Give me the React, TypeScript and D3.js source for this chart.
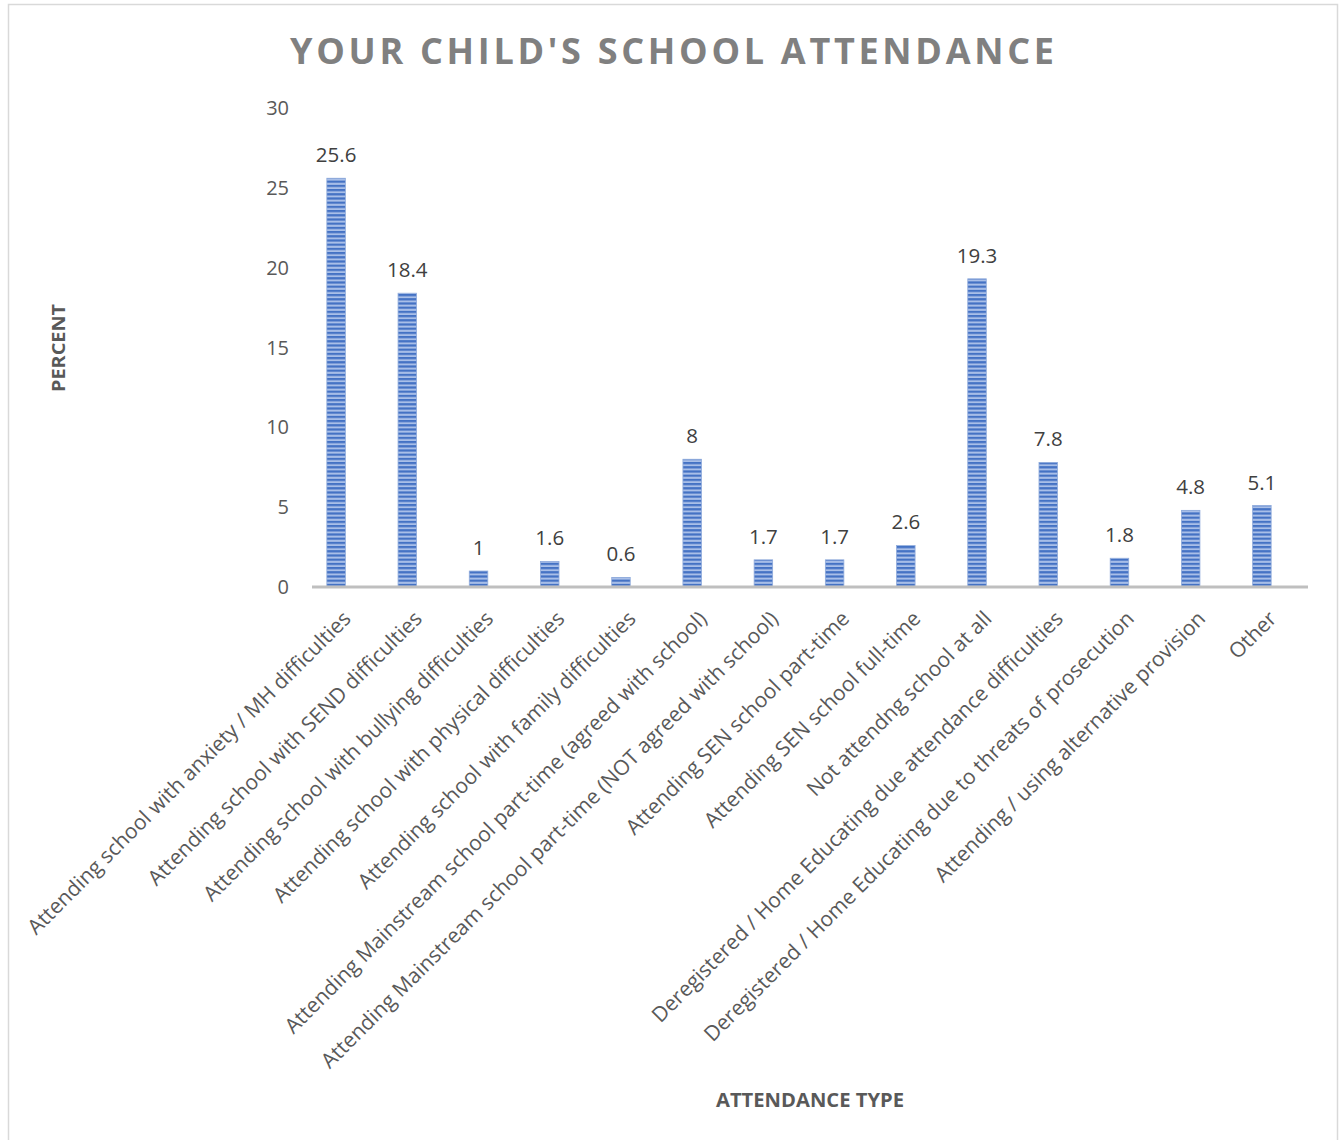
import React from "react";
import * as d3 from "d3";

const categories: string[] = [
  "Attending school with anxiety / MH difficulties",
  "Attending school with SEND difficulties",
  "Attending school with bullying difficulties",
  "Attending school with physical difficulties",
  "Attending school with family difficulties",
  "Attending Mainstream school part-time (agreed with school)",
  "Attending Mainstream school part-time (NOT agreed with school)",
  "Attending SEN school part-time",
  "Attending SEN school full-time",
  "Not attendng school at all",
  "Deregistered / Home Educating due attendance difficulties",
  "Deregistered / Home Educating due to threats of prosecution",
  "Attending / using alternative provision",
  "Other",
];
const values: number[] = [25.6, 18.4, 1, 1.6, 0.6, 8, 1.7, 1.7, 2.6, 19.3, 7.8, 1.8, 4.8, 5.1];
const valueLabels: string[] = ["25.6", "18.4", "1", "1.6", "0.6", "8", "1.7", "1.7", "2.6", "19.3", "7.8", "1.8", "4.8", "5.1"];
const yTicks: number[] = [0, 5, 10, 15, 20, 25, 30];

const title = "YOUR CHILD'S SCHOOL ATTENDANCE";
const yTitle = "PERCENT";
const xTitle = "ATTENDANCE TYPE";

const W = 1341;
const H = 1140;
const FONT = "'Open Sans', 'Noto Sans', sans-serif";

export default function App() {
  const x = d3
    .scaleBand<string>()
    .domain(categories)
    .range([300.5, 1297.5])
    .paddingInner(0.74)
    .paddingOuter(0.37);
  const y = d3.scaleLinear().domain([0, 30]).range([587, 108]);
  const bw = x.bandwidth();

  return (
    <svg
      width={W}
      height={H}
      style={{ position: "absolute", left: 0, top: 0, background: "#fff" }}
      fontFamily={FONT}
    >
      <defs>
        <pattern id="stripes" patternUnits="userSpaceOnUse" width={8} height={4.2}>
          <rect width={8} height={4.2} fill="#a9bfe8" />
          <rect width={8} height={2.2} y={0} fill="#4472c4" />
        </pattern>
      </defs>
      <rect x={8.5} y={4.5} width={1329} height={1160} fill="#fff" stroke="#d9d9d9" strokeWidth={1.5} />

      <text
        x={672}
        y={64}
        textAnchor="middle"
        fontSize={36}
        fontWeight="bold"
        fill="#808080"
        textLength={764}
        lengthAdjust="spacing"
      >
        {title}
      </text>

      {yTicks.map((t) => (
        <text key={t} x={289} y={y(t)} dy="0.35em" textAnchor="end" fontSize={20} fill="#595959">
          {t}
        </text>
      ))}

      {categories.map((c, i) => (
        <g key={c}>
          <rect
            x={x(c)!}
            y={y(values[i])}
            width={bw}
            height={y(0) - y(values[i])}
            fill="url(#stripes)"
            stroke="#8eaadb"
            strokeWidth={0.8}
          />
          <text
            x={x(c)! + bw / 2}
            y={y(values[i]) - 16}
            textAnchor="middle"
            fontSize={20.5}
            fill="#404040"
          >
            {valueLabels[i]}
          </text>
          <text
            transform={`translate(${x(c)! + bw / 2 + 16},${620}) rotate(-45)`}
            textAnchor="end"
            fontSize={21}
            fill="#595959"
          >
            {c}
          </text>
        </g>
      ))}

      <line x1={312} x2={1308} y1={587} y2={587} stroke="#bfbfbf" strokeWidth={3} />

      <text
        transform={`translate(65,348) rotate(-90)`}
        textAnchor="middle"
        fontSize={18.5}
        fontWeight="bold"
        fill="#595959"
        textLength={88}
        lengthAdjust="spacingAndGlyphs"
      >
        {yTitle}
      </text>
      <text
        x={810}
        y={1107}
        textAnchor="middle"
        fontSize={19}
        fontWeight="bold"
        fill="#595959"
        textLength={188}
        lengthAdjust="spacingAndGlyphs"
      >
        {xTitle}
      </text>
    </svg>
  );
}
